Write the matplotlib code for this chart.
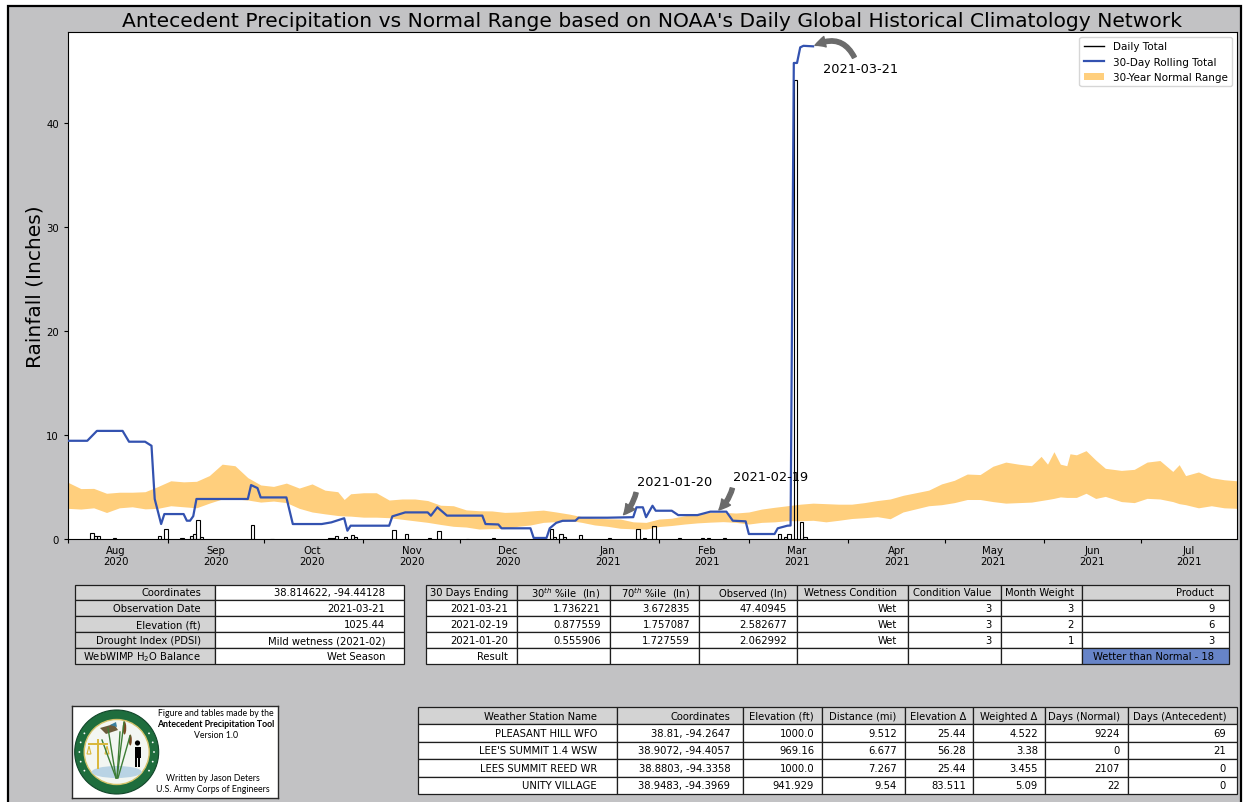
import matplotlib
matplotlib.use("Agg")
import matplotlib.pyplot as plt
import matplotlib.dates as mdates
import matplotlib.ticker as mticker
import numpy as np
import pandas as pd
from matplotlib.lines import Line2D
from matplotlib.patches import Patch, Rectangle, Circle, Ellipse, Polygon

# ---------------- data ----------------
band_dates = ["2020-08-01", "2020-08-05", "2020-08-09", "2020-08-13", "2020-08-17", "2020-08-21",
              "2020-08-25", "2020-08-29", "2020-09-02", "2020-09-06", "2020-09-10", "2020-09-14",
              "2020-09-18", "2020-09-22", "2020-09-26", "2020-09-30", "2020-10-04", "2020-10-08",
              "2020-10-12", "2020-10-16", "2020-10-20", "2020-10-24", "2020-10-26", "2020-10-28",
              "2020-11-01", "2020-11-05", "2020-11-09", "2020-11-13", "2020-11-17", "2020-11-21",
              "2020-11-25", "2020-11-29", "2020-12-03", "2020-12-07", "2020-12-11", "2020-12-15",
              "2020-12-19", "2020-12-23", "2020-12-27", "2020-12-31", "2021-01-04", "2021-01-08",
              "2021-01-12", "2021-01-16", "2021-01-20", "2021-01-24", "2021-01-28", "2021-02-01",
              "2021-02-05", "2021-02-09", "2021-02-13", "2021-02-17", "2021-02-21", "2021-02-25",
              "2021-03-01", "2021-03-05", "2021-03-09", "2021-03-13", "2021-03-17", "2021-03-21",
              "2021-03-25", "2021-03-29", "2021-04-02", "2021-04-06", "2021-04-10", "2021-04-14",
              "2021-04-18", "2021-04-22", "2021-04-26", "2021-04-30", "2021-05-04", "2021-05-08",
              "2021-05-12", "2021-05-16", "2021-05-20", "2021-05-24", "2021-05-28", "2021-05-31",
              "2021-06-02", "2021-06-04", "2021-06-06", "2021-06-08", "2021-06-09", "2021-06-11",
              "2021-06-14", "2021-06-17", "2021-06-20", "2021-06-25", "2021-06-29", "2021-07-03",
              "2021-07-07", "2021-07-11", "2021-07-13", "2021-07-15", "2021-07-19", "2021-07-23",
              "2021-07-27", "2021-07-31"]
band_upper = [5.45, 4.85, 4.87, 4.40, 4.50, 4.50, 4.55, 5.05, 5.60, 5.50, 5.55, 6.10,
              7.20, 7.05, 5.90, 5.20, 5.06, 5.38, 4.90, 5.30, 4.70, 4.55, 3.80, 4.35,
              4.45, 4.45, 3.75, 3.85, 3.85, 3.70, 3.25, 3.20, 2.80, 2.72, 2.70, 2.56,
              2.60, 2.70, 2.78, 2.60, 2.40, 2.15, 2.00, 1.95, 1.92, 1.65, 1.60, 1.92,
              2.00, 2.24, 2.40, 2.56, 2.56, 2.50, 2.60, 2.88, 3.05, 3.20, 3.35, 3.45,
              3.40, 3.35, 3.35, 3.50, 3.70, 3.85, 4.20, 4.45, 4.70, 5.30, 5.65, 6.25,
              6.20, 7.00, 7.40, 7.20, 7.05, 7.95, 7.20, 8.40, 7.20, 7.05, 8.20, 8.10,
              8.50, 7.60, 6.80, 6.60, 6.70, 7.40, 7.55, 6.50, 7.15, 6.10, 6.45, 5.90,
              5.70, 5.60]
band_lower = [2.95, 2.88, 3.00, 2.55, 3.00, 3.10, 2.90, 2.95, 3.20, 3.10, 3.00, 3.45,
              3.85, 3.85, 3.75, 3.55, 3.65, 3.50, 2.95, 2.60, 2.42, 2.26, 2.22, 2.20,
              2.10, 2.10, 2.05, 1.90, 1.75, 1.60, 1.40, 1.22, 1.15, 0.96, 1.00, 1.00,
              1.22, 1.35, 1.60, 1.67, 1.80, 1.60, 1.35, 1.22, 1.03, 0.98, 0.96, 1.20,
              1.30, 1.44, 1.55, 1.62, 1.67, 1.60, 1.44, 1.60, 1.65, 1.76, 1.76, 1.80,
              1.65, 1.80, 1.97, 2.05, 2.15, 1.95, 2.60, 2.90, 3.20, 3.30, 3.50, 3.80,
              3.80, 3.60, 3.45, 3.50, 3.55, 3.70, 3.80, 3.91, 4.05, 4.00, 4.00, 4.00,
              4.40, 3.90, 4.10, 3.60, 3.50, 3.91, 3.85, 3.60, 3.40, 3.30, 3.00, 3.20,
              3.00, 2.95]

rolling_dates = ["2020-08-01", "2020-08-07", "2020-08-10", "2020-08-18", "2020-08-20", "2020-08-25",
                 "2020-08-27", "2020-08-28", "2020-08-30", "2020-08-31", "2020-09-06", "2020-09-07",
                 "2020-09-08", "2020-09-09", "2020-09-10", "2020-09-26", "2020-09-27", "2020-09-29",
                 "2020-09-30", "2020-10-08", "2020-10-10", "2020-10-19", "2020-10-22", "2020-10-26",
                 "2020-10-27", "2020-10-28", "2020-11-09", "2020-11-10", "2020-11-14", "2020-11-21",
                 "2020-11-22", "2020-11-24", "2020-11-27", "2020-12-08", "2020-12-09", "2020-12-13",
                 "2020-12-14", "2020-12-23", "2020-12-24", "2020-12-28", "2020-12-29", "2020-12-31",
                 "2021-01-02", "2021-01-06", "2021-01-07", "2021-01-16", "2021-01-24", "2021-01-25",
                 "2021-01-27", "2021-01-28", "2021-01-30", "2021-01-31", "2021-02-05", "2021-02-07",
                 "2021-02-13", "2021-02-17", "2021-02-22", "2021-02-24", "2021-02-28", "2021-03-01",
                 "2021-03-09", "2021-03-10", "2021-03-13", "2021-03-14", "2021-03-15", "2021-03-16",
                 "2021-03-17", "2021-03-18", "2021-03-21"]
rolling_total = [9.45, 9.45, 10.4, 10.4, 9.36, 9.36,
                 8.97, 3.85, 1.44, 2.40, 2.40, 1.76,
                 1.76, 2.20, 3.85, 3.85, 5.19, 4.90,
                 4.00, 4.00, 1.44, 1.44, 1.60, 2.00,
                 0.80, 1.28, 1.28, 2.18, 2.56, 2.56,
                 2.24, 3.05, 2.25, 2.25, 1.44, 1.40,
                 1.03, 1.03, 0.10, 0.10, 1.03, 1.55,
                 1.75, 1.76, 2.05, 2.05, 2.10, 3.05,
                 3.05, 2.10, 3.20, 2.72, 2.72, 2.30,
                 2.30, 2.63, 2.63, 1.76, 1.70, 0.48,
                 0.48, 1.03, 1.28, 1.30, 45.8, 45.8,
                 47.3, 47.45, 47.4]

daily_dates = ["2020-08-08", "2020-08-09", "2020-08-10", "2020-08-15", "2020-08-29", "2020-08-31",
               "2020-09-05", "2020-09-08", "2020-09-09", "2020-09-10", "2020-09-11", "2020-09-27",
               "2020-10-03", "2020-10-21", "2020-10-22", "2020-10-23", "2020-10-26", "2020-10-28",
               "2020-10-29", "2020-11-10", "2020-11-14", "2020-11-21", "2020-11-24", "2020-12-03",
               "2020-12-11", "2020-12-29", "2020-12-30", "2021-01-01", "2021-01-02", "2021-01-07",
               "2021-01-16", "2021-01-25", "2021-01-27", "2021-01-30", "2021-02-07", "2021-02-14",
               "2021-02-16", "2021-02-21", "2021-03-10", "2021-03-12", "2021-03-13", "2021-03-15",
               "2021-03-17", "2021-03-18"]
daily_total = [0.55, 0.30, 0.30, 0.05, 0.30, 0.95,
               0.05, 0.30, 0.50, 1.83, 0.20, 1.38,
               0.03, 0.05, 0.05, 0.30, 0.22, 0.35,
               0.15, 0.87, 0.48, 0.10, 0.74, 0.03,
               0.05, 0.96, 0.15, 0.48, 0.20, 0.38,
               0.05, 0.96, 0.05, 1.22, 0.05, 0.05,
               0.05, 0.05, 0.48, 0.20, 0.45, 44.2,
               1.60, 0.22]

annot_dates = ["2021-03-21", "2021-02-19", "2021-01-20"]

site_labels = ["Coordinates", "Observation Date", "Elevation (ft)", "Drought Index (PDSI)",
               "WebWIMP H$_2$O Balance"]
site_values = ["38.814622, -94.44128", "2021-03-21", "1025.44", "Mild wetness (2021-02)", "Wet Season"]

ante_header = ["30 Days Ending", "30$^{th}$ %ile  (In)", "70$^{th}$ %ile  (In)", "Observed (In)",
               "Wetness Condition", "Condition Value", "Month Weight", "Product"]
ante_rows = [["2021-03-21", "1.736221", "3.672835", "47.40945", "Wet", "3", "3", "9"],
             ["2021-02-19", "0.877559", "1.757087", "2.582677", "Wet", "3", "2", "6"],
             ["2021-01-20", "0.555906", "1.727559", "2.062992", "Wet", "3", "1", "3"],
             ["Result", "", "", "", "", "", "", "Wetter than Normal - 18"]]

station_header = ["Weather Station Name", "Coordinates", "Elevation (ft)", "Distance (mi)",
                  "Elevation \u0394", "Weighted \u0394", "Days (Normal)", "Days (Antecedent)"]
station_rows = [["PLEASANT HILL WFO", "38.81, -94.2647", "1000.0", "9.512", "25.44", "4.522", "9224", "69"],
                ["LEE'S SUMMIT 1.4 WSW", "38.9072, -94.4057", "969.16", "6.677", "56.28", "3.38", "0", "21"],
                ["LEES SUMMIT REED WR", "38.8803, -94.3358", "1000.0", "7.267", "25.44", "3.455", "2107", "0"],
                ["UNITY VILLAGE", "38.9483, -94.3969", "941.929", "9.54", "83.511", "5.09", "22", "0"]]

# ---------------- styling ----------------
BG = "#c2c2c4"
HDR = "#d3d3d3"
BLUE = "#3352b0"
ORANGE = "#ffcf7d"
RESULT_BLUE = "#6784c8"
ARROW = "#6b6b6b"

W, H = 1243, 803
fig = plt.figure(figsize=(W / 100, H / 100), dpi=100, facecolor="white")


def px_axes(x0, y0, x1, y1):
    return fig.add_axes([x0 / W, 1 - y1 / H, (x1 - x0) / W, (y1 - y0) / H])


fig.add_artist(Rectangle((8 / W, -0.05), (1241 - 8) / W, (H - 7) / H + 0.05,
                         transform=fig.transFigure, facecolor=BG, edgecolor="black",
                         lw=1.6, zorder=-10))

# ---------------- main chart ----------------
ax = px_axes(68, 33, 1237, 540)
bd = pd.to_datetime(band_dates)
rd = pd.to_datetime(rolling_dates)
dd = pd.to_datetime(daily_dates)

ax.fill_between(bd, band_lower, band_upper, color=ORANGE, lw=0, zorder=1)
ax.bar(dd, daily_total, width=1.0, align="edge", facecolor="none", edgecolor="black",
       lw=0.8, zorder=2)
ax.plot(rd, rolling_total, color=BLUE, lw=1.6, zorder=3)

ax.set_xlim(bd[0], bd[-1])
ax.set_ylim(0, max(rolling_total) * 1.028)

ax.xaxis.set_major_locator(mdates.MonthLocator())
ax.xaxis.set_major_formatter(mticker.NullFormatter())
ax.xaxis.set_minor_locator(mdates.MonthLocator(bymonthday=16))
ax.xaxis.set_minor_formatter(mdates.DateFormatter("%b\n%Y"))
ax.tick_params(axis="x", which="minor", length=0, labelsize=7.3, pad=4)
ax.tick_params(axis="x", which="major", length=3, width=0.8)
ax.tick_params(axis="y", labelsize=7.3, length=3)

ax.set_title("Antecedent Precipitation vs Normal Range based on NOAA's Daily Global Historical "
             "Climatology Network", fontsize=14.6, pad=4.5)
ax.set_ylabel("Rainfall (Inches)", fontsize=14.5)
ax.yaxis.set_label_coords(-0.0197, 0.5)

handles = [Line2D([], [], color="black", lw=1.0), Line2D([], [], color=BLUE, lw=1.6),
           Patch(facecolor=ORANGE, edgecolor="none")]
ax.legend(handles, ["Daily Total", "30-Day Rolling Total", "30-Year Normal Range"],
          loc="upper right", fontsize=7.5)

rnum = mdates.date2num(rd)
ann_style = {
    "2021-03-21": dict(off=(34, -16), rad=0.55, relpos=(0.45, 1.0), shrinkB=1.5),
    "2021-02-19": dict(off=(39, 25), rad=-0.2, relpos=(0.0, 0.0), shrinkB=2.0),
    "2021-01-20": dict(off=(39, 26), rad=-0.2, relpos=(0.0, 0.0), shrinkB=3.0),
}
for d in annot_dates:
    st = ann_style[d]
    xd = mdates.date2num(pd.Timestamp(d))
    yv = float(np.interp(xd, rnum, rolling_total))
    ax.annotate(d, xy=(xd, yv), xytext=st["off"], textcoords="offset points",
                ha="center", va="center", fontsize=9.3, zorder=5,
                arrowprops=dict(arrowstyle="simple,head_length=0.55,head_width=0.55,tail_width=0.22",
                                color=ARROW, connectionstyle="arc3,rad=%s" % st["rad"],
                                shrinkA=1.5, shrinkB=st["shrinkB"], relpos=st["relpos"],
                                mutation_scale=14))


# ---------------- tables ----------------
def draw_table(x0, y0, x1, y1, text, widths, colours, fs=7.2):
    tax = px_axes(x0, y0, x1, y1)
    tax.axis("off")
    tot = float(sum(widths))
    tbl = tax.table(cellText=text, cellColours=colours, colWidths=[w / tot for w in widths],
                    cellLoc="right", bbox=[0, 0, 1, 1])
    tbl.auto_set_font_size(False)
    tbl.set_fontsize(fs)
    for cell in tbl.get_celld().values():
        cell.set_edgecolor("#1e1e1e")
        cell.set_linewidth(0.9)
    return tbl


t1_text = [[lab, val] for lab, val in zip(site_labels, site_values)]
t1_col = [[HDR, "white"] for _ in site_labels]
draw_table(75, 585.5, 404, 665, t1_text, [140, 189], t1_col)

t2_text = [ante_header] + ante_rows
t2_col = [[HDR] * len(ante_header)] + [["white"] * len(ante_header) for _ in ante_rows]
t2_col[-1][-1] = RESULT_BLUE
draw_table(426, 585.5, 1229, 665, t2_text, [91, 93, 89, 98, 111, 93, 81, 147], t2_col)

t3_text = [station_header] + station_rows
t3_col = [[HDR] * len(station_header)] + [["white"] * len(station_header) for _ in station_rows]
draw_table(418, 708, 1237, 795, t3_text, [199, 126, 79, 83, 68, 72, 83, 109], t3_col)

# ---------------- logo box ----------------
lax = px_axes(72, 707, 278, 799)
lax.set_xlim(0, 206)
lax.set_ylim(92, 0)
lax.set_xticks([])
lax.set_yticks([])
lax.set_facecolor("white")
for s in lax.spines.values():
    s.set_color("#2a2a2a")
    s.set_linewidth(1.0)

cx, cy, r = 44.7, 46.0, 42.0
lax.add_patch(Circle((cx, cy), r, facecolor="#1e6d3d", edgecolor="#12462a", lw=0.8))
lax.add_patch(Circle((cx, cy), r - 9.5, facecolor="#f3f6f2", edgecolor="#d6c36a", lw=1.0))
for ang in np.linspace(0, 2 * np.pi, 24, endpoint=False):
    if np.sin(ang) > 0.55 or np.sin(ang) < -0.55:
        continue
    lax.add_patch(Circle((cx + (r - 4.7) * np.cos(ang), cy + (r - 4.7) * np.sin(ang)), 0.9,
                         facecolor="white", edgecolor="none"))
lax.add_patch(Ellipse((cx, cy + 20), 50, 12, facecolor="#b9d3e4", edgecolor="none"))
for (x0_, x1_, y1_) in [(44, 36, 22), (45, 52, 16), (46, 58, 30), (44, 30, 34), (45, 48, 26)]:
    lax.plot([x0_, x1_], [72, y1_], color="#3d7d35", lw=1.0)
lax.add_patch(Ellipse((52.5, 22), 3.5, 13, facecolor="#7a4a22", edgecolor="none"))
lax.add_patch(Ellipse((58.3, 34), 3.0, 11, facecolor="#7a4a22", edgecolor="none"))
lax.add_patch(Polygon([[28, 22], [42, 18], [46, 24], [34, 28]], closed=True,
                      facecolor="#6b5a3a", edgecolor="none"))
lax.add_patch(Polygon([[38, 19], [44, 16], [45, 21]], closed=True, facecolor="#3a7fa0",
                      edgecolor="none"))
lax.plot([26, 26], [34, 62], color="#d9b73a", lw=1.4)
lax.plot([17, 35], [38, 38], color="#d9b73a", lw=1.4)
lax.add_patch(Polygon([[15, 48], [19, 48], [17, 40]], closed=True, facecolor="none",
                      edgecolor="#d9b73a", lw=0.8))
lax.add_patch(Polygon([[33, 48], [37, 48], [35, 40]], closed=True, facecolor="none",
                      edgecolor="#d9b73a", lw=0.8))
lax.add_patch(Circle((65.5, 37), 2.6, facecolor="black", edgecolor="none"))
lax.add_patch(Rectangle((62.5, 40.5), 6, 11, facecolor="black", edgecolor="none"))
lax.add_patch(Rectangle((63.2, 51), 1.8, 10, facecolor="black", edgecolor="none"))
lax.add_patch(Rectangle((66.0, 51), 1.8, 10, facecolor="black", edgecolor="none"))

logo_font = ["Lato", "DejaVu Sans"]
lax.text(144, 7, "Figure and tables made by the", ha="center", va="center", fontsize=6.3,
         family=logo_font)
lax.text(144, 18, "Antecedent Precipitation Tool", ha="center", va="center", fontsize=6.3,
         fontweight="bold", family=logo_font)
lax.text(144, 29, "Version 1.0", ha="center", va="center", fontsize=6.3, family=logo_font)
lax.text(141, 71.3, "Written by Jason Deters", ha="center", va="center", fontsize=6.3,
         family=logo_font)
lax.text(141, 83, "U.S. Army Corps of Engineers", ha="center", va="center", fontsize=6.3,
         family=logo_font)

fig.savefig("out.png", dpi=100, facecolor=fig.get_facecolor())
